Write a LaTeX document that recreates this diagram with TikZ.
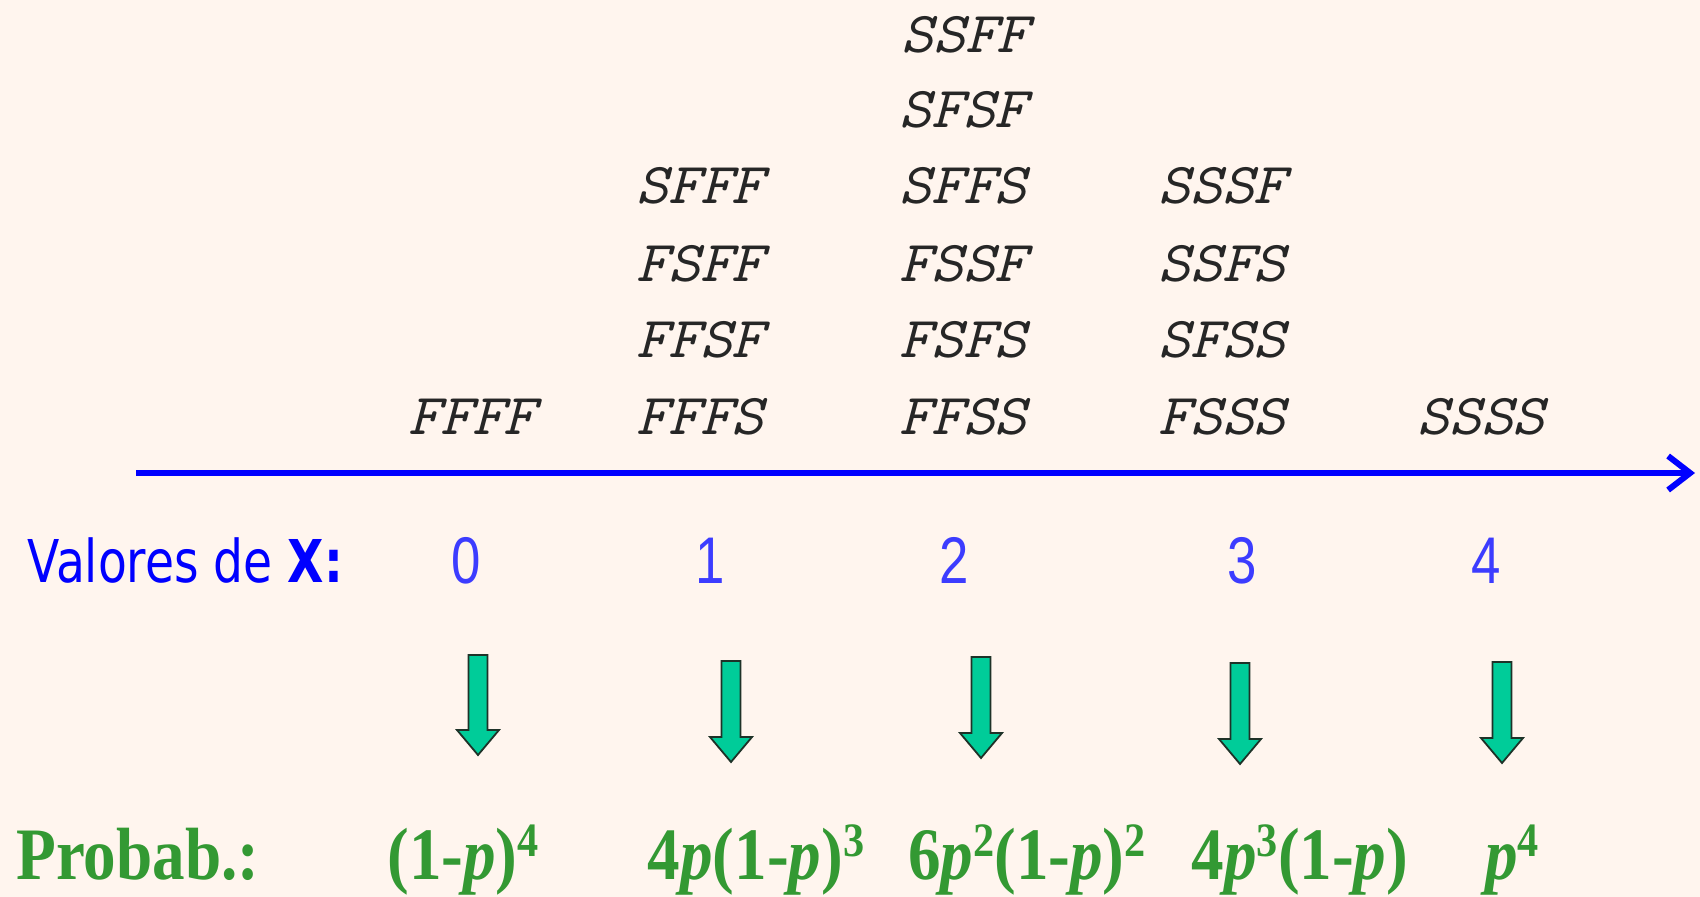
\documentclass[tikz,border=0pt]{standalone}
\usepackage{fontspec}
\usepackage{graphicx}
\usetikzlibrary{arrows.meta}
\newfontfamily\valfont{DejaVu Sans}[FakeStretch=0.8]
\newfontfamily\digfont{Liberation Sans}[FakeStretch=0.8]
\newfontfamily\probfont{Liberation Serif}[FakeStretch=0.88]
\definecolor{bgc}{RGB}{255,245,238}
\definecolor{axblue}{RGB}{0,0,255}
\definecolor{digblue}{RGB}{60,60,255}
\definecolor{pgreen}{RGB}{51,153,51}
\definecolor{afill}{RGB}{0,204,153}
\definecolor{aline}{RGB}{30,50,40}
\newcommand\upr[1]{\raisebox{0.3em}{\fontsize{24}{24}\selectfont #1}}
\newcommand\sq[1]{\scalebox{1.05}[1]{#1}}
\newcommand\greenarrow[3]{%
  \draw[garrow] ({#1-9.5},#2) -- ({#1+9.5},#2) -- ({#1+9.5},{#3-25}) -- ({#1+21},{#3-25})
    -- (#1,#3) -- ({#1-21},{#3-25}) -- ({#1-9.5},{#3-25}) -- cycle;}
\begin{document}
\begin{tikzpicture}[x=0.5pt,y=-0.5pt,
  seq/.style={font=\ttfamily\itshape\fontsize{29}{30}\selectfont, text=black!85, inner sep=0pt, anchor=base},
  val/.style={font=\valfont\fontsize{29.5}{30}\selectfont, text=axblue, inner sep=0pt, anchor=base west},
  dig/.style={font=\digfont\fontsize{33}{33}\selectfont, text=digblue, inner sep=0pt, anchor=base},
  prob/.style={font=\probfont\bfseries\fontsize{37}{37}\selectfont, text=pgreen, inner sep=0pt, anchor=base},
  axis/.style={draw=axblue, line width=3pt, -{Straight Barb[length=11pt,width=17pt,line width=3pt]}},
  garrow/.style={fill=afill, draw=aline, line width=0.9pt, line join=miter}]
\useasboundingbox (0,0) rectangle (1700,897);
\fill[bgc] (0,0) rectangle (1700,897);
% outcome sequences
\node[seq] (c0r1) at (472,435) {\sq{FFFF}};
\node[seq] (c1r1) at (700,435) {\sq{FFFS}};
\node[seq] (c1r2) at (700,358) {\sq{FFSF}};
\node[seq] (c1r3) at (700,282) {\sq{FSFF}};
\node[seq] (c1r4) at (700,204) {\sq{SFFF}};
\node[seq] (c2r1) at (963,435) {\sq{FFSS}};
\node[seq] (c2r2) at (963,358) {\sq{FSFS}};
\node[seq] (c2r3) at (963,282) {\sq{FSSF}};
\node[seq] (c2r4) at (963,204) {\sq{SFFS}};
\node[seq] (c2r5) at (963,128) {\sq{SFSF}};
\node[seq] (c2r6) at (965,53) {\sq{SSFF}};
\node[seq] (c3r1) at (1222,435) {\sq{FSSS}};
\node[seq] (c3r2) at (1222,358) {\sq{SFSS}};
\node[seq] (c3r3) at (1222,282) {\sq{SSFS}};
\node[seq] (c3r4) at (1222,204) {\sq{SSSF}};
\node[seq] (c4r1) at (1481,435) {\sq{SSSS}};
% axis
\coordinate (ax0) at (136,473);
\coordinate (ax1) at (1695,473);
\draw[axis] (ax0) -- (ax1);
% values
\node[val] (vlab) at (27,582) {Valores de \textbf{X:}};
\node[dig] (v0) at (466,583) {0};
\node[dig] (v1) at (710,583) {1};
\node[dig] (v2) at (954,583) {2};
\node[dig] (v3) at (1242,583) {3};
\node[dig] (v4) at (1486,583) {4};
% arrows
\greenarrow{478}{655}{755}
\greenarrow{731}{661}{762}
\greenarrow{981}{657}{758}
\greenarrow{1240}{663}{764}
\greenarrow{1502}{662}{763}
% probabilities
\node[prob, anchor=base west] (plab) at (16,879) {Probab.:};
\node[prob] (p0) at (463,879) {(1-\textit{p})\upr{4}};
\node[prob] (p1) at (756,879) {4\textit{p}(1-\textit{p})\upr{3}};
\node[prob] (p2) at (1027,879) {6\textit{p}\upr{2}(1-\textit{p})\upr{2}};
\node[prob] (p3) at (1300,879) {4\textit{p}\upr{3}(1-\textit{p})};
\node[prob] (p4) at (1512,879) {\textit{p}\upr{4}};
\end{tikzpicture}
\end{document}
